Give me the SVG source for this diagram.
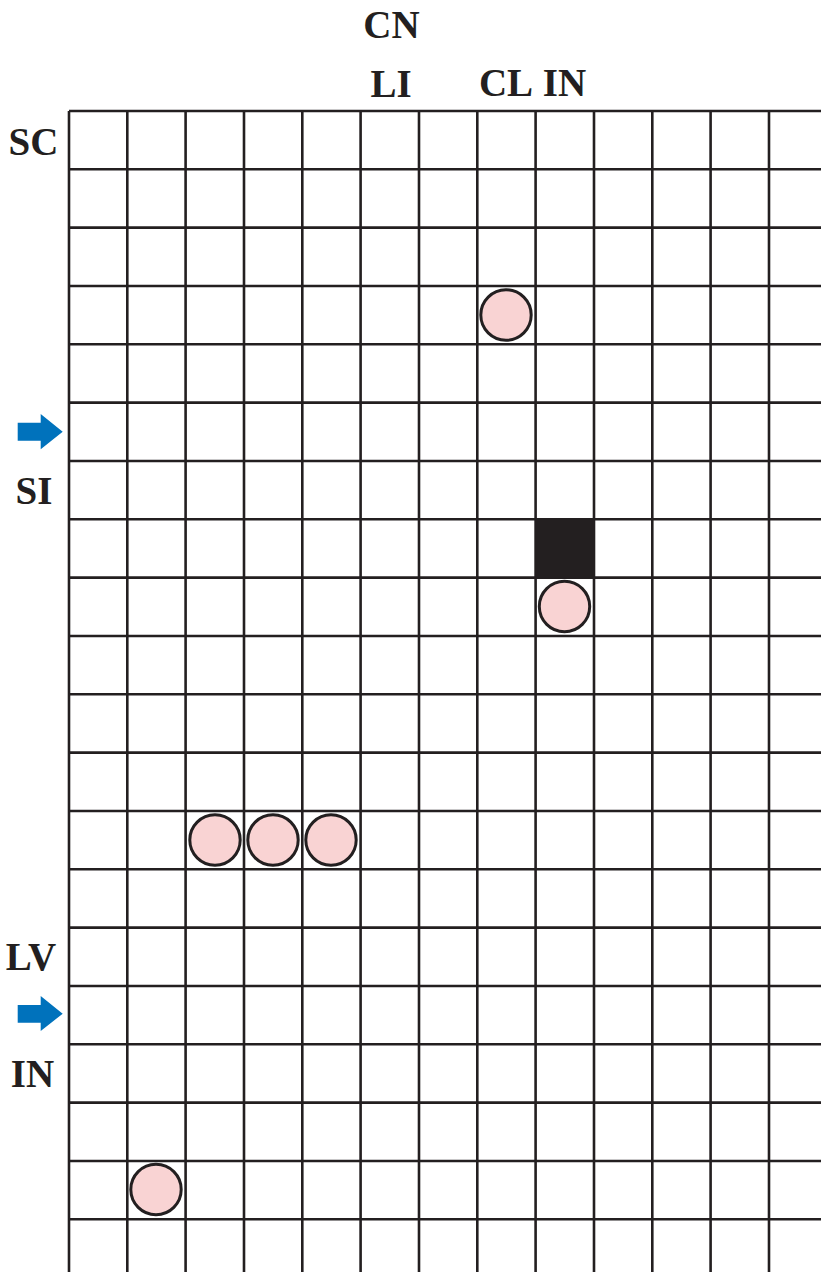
<svg xmlns="http://www.w3.org/2000/svg" width="821" height="1272" viewBox="0 0 821 1272">
<style>
.g line{stroke:#231f20;stroke-width:2.6}
.lbl{font-family:"Liberation Serif","Times New Roman",serif;font-weight:bold;font-size:39px;fill:#231f20;text-anchor:middle}
.c{fill:#f9d3d3;stroke:#231f20;stroke-width:3}
.arr{fill:#0072bc}
</style>
<rect width="821" height="1272" fill="#ffffff"/>
<g id="grid" class="g">
<line x1="69" y1="111" x2="69" y2="1272"/>
<line x1="127.3" y1="111" x2="127.3" y2="1272"/>
<line x1="185.6" y1="111" x2="185.6" y2="1272"/>
<line x1="244" y1="111" x2="244" y2="1272"/>
<line x1="302.3" y1="111" x2="302.3" y2="1272"/>
<line x1="360.6" y1="111" x2="360.6" y2="1272"/>
<line x1="419" y1="111" x2="419" y2="1272"/>
<line x1="477.3" y1="111" x2="477.3" y2="1272"/>
<line x1="535.6" y1="111" x2="535.6" y2="1272"/>
<line x1="594" y1="111" x2="594" y2="1272"/>
<line x1="652.3" y1="111" x2="652.3" y2="1272"/>
<line x1="710.6" y1="111" x2="710.6" y2="1272"/>
<line x1="769" y1="111" x2="769" y2="1272"/>
<line x1="69" y1="111" x2="821" y2="111"/>
<line x1="69" y1="169.3" x2="821" y2="169.3"/>
<line x1="69" y1="227.6" x2="821" y2="227.6"/>
<line x1="69" y1="286" x2="821" y2="286"/>
<line x1="69" y1="344.3" x2="821" y2="344.3"/>
<line x1="69" y1="402.6" x2="821" y2="402.6"/>
<line x1="69" y1="461" x2="821" y2="461"/>
<line x1="69" y1="519.3" x2="821" y2="519.3"/>
<line x1="69" y1="577.6" x2="821" y2="577.6"/>
<line x1="69" y1="636" x2="821" y2="636"/>
<line x1="69" y1="694.3" x2="821" y2="694.3"/>
<line x1="69" y1="752.6" x2="821" y2="752.6"/>
<line x1="69" y1="811" x2="821" y2="811"/>
<line x1="69" y1="869.3" x2="821" y2="869.3"/>
<line x1="69" y1="927.6" x2="821" y2="927.6"/>
<line x1="69" y1="986" x2="821" y2="986"/>
<line x1="69" y1="1044.3" x2="821" y2="1044.3"/>
<line x1="69" y1="1102.6" x2="821" y2="1102.6"/>
<line x1="69" y1="1161" x2="821" y2="1161"/>
<line x1="69" y1="1219.3" x2="821" y2="1219.3"/>
</g>
<g id="block"><rect x="535.6" y="519.3" width="58.4" height="58.3" fill="#231f20"/></g>
<g id="circles">
<circle class="c" cx="506" cy="315" r="25.2"/>
<circle class="c" cx="564.5" cy="606.5" r="25.2"/>
<circle class="c" cx="215" cy="840" r="25.2"/>
<circle class="c" cx="273" cy="840" r="25.2"/>
<circle class="c" cx="331" cy="840" r="25.2"/>
<circle class="c" cx="156" cy="1189.5" r="25.2"/>
</g>
<g id="arrows">
<polygon class="arr" points="17.7,422.7 40.7,422.7 40.7,414 62.7,431.7 40.7,449.3 40.7,440.7 17.7,440.7"/>
<polygon class="arr" points="17.7,1005 40.7,1005 40.7,996 62.7,1013.7 40.7,1031 40.7,1022.7 17.7,1022.7"/>
</g>
<g id="labels">
<text class="lbl" x="391.5" y="38">CN</text>
<text class="lbl" x="391" y="97">LI</text>
<text class="lbl" x="506" y="96">CL</text>
<text class="lbl" x="564.5" y="96">IN</text>
<text class="lbl" x="33.5" y="155">SC</text>
<text class="lbl" x="34" y="504">SI</text>
<text class="lbl" x="31" y="970">LV</text>
<text class="lbl" x="32.5" y="1087">IN</text>
</g>
</svg>
